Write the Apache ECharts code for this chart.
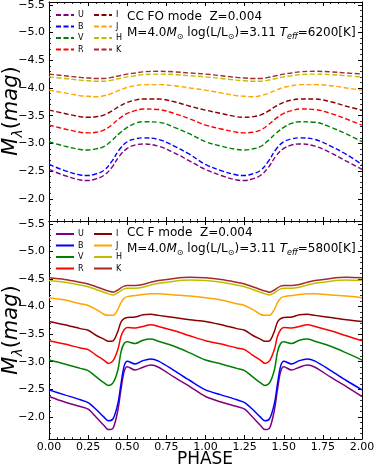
<!DOCTYPE html>
<html><head><meta charset="utf-8">
<script src="https://cdn.jsdelivr.net/npm/echarts@6/dist/echarts.min.js"></script>
<style>html,body{margin:0;padding:0;background:#fff}#c{width:374px;height:469px}</style>
</head><body><div id="c"></div>
<script>
// ---------- data ----------
const bands = ['U','B','V','R','I','J','H','K'];
const bandColors = ['#800080','#0000FF','#008000','#FF0000','#8B0000','#FFA500','#BFBF00','#A52A2A'];
const xTicks = [0,0.25,0.5,0.75,1.0,1.25,1.5,1.75,2.0];
const yTicks = [-5.5,-5.0,-4.5,-4.0,-3.5,-3.0,-2.5,-2.0];
const yMinorTicks = [-5.5,-5.4,-5.3,-5.2,-5.1,-5.0,-4.9,-4.8,-4.7,-4.6,-4.5,-4.4,-4.3,-4.2,-4.1,-4.0,-3.9,-3.8,-3.7,-3.6,-3.5,-3.4,-3.3,-3.2,-3.1,-3.0,-2.9,-2.8,-2.7,-2.6,-2.5,-2.4,-2.3,-2.2,-2.1,-2.0,-1.9,-1.8,-1.7];

// First-overtone (FO) model, one pulsation cycle
const phaseFO = [0,0.1,0.2,0.25,0.3,0.35,0.4,0.45,0.5,0.55,0.6,0.7,0.8,0.9];
const foU = [-2.53,-2.42,-2.34,-2.33,-2.36,-2.42,-2.56,-2.77,-2.91,-2.97,-2.99,-2.95,-2.83,-2.68];
const foB = [-2.62,-2.51,-2.43,-2.42,-2.45,-2.51,-2.67,-2.89,-3.03,-3.08,-3.10,-3.07,-2.95,-2.80];
const foV = [-3.03,-2.95,-2.89,-2.88,-2.90,-2.94,-3.05,-3.18,-3.29,-3.36,-3.39,-3.38,-3.29,-3.17];
const foR = [-3.33,-3.26,-3.20,-3.19,-3.20,-3.24,-3.33,-3.45,-3.54,-3.59,-3.62,-3.61,-3.54,-3.44];
const foI = [-3.60,-3.54,-3.48,-3.47,-3.48,-3.51,-3.58,-3.67,-3.74,-3.78,-3.80,-3.80,-3.75,-3.67];
const foJ = [-3.96,-3.91,-3.86,-3.85,-3.84,-3.86,-3.90,-3.96,-4.01,-4.04,-4.06,-4.06,-4.04,-4.00];
const foH = [-4.20,-4.17,-4.14,-4.13,-4.12,-4.12,-4.14,-4.17,-4.20,-4.22,-4.24,-4.25,-4.24,-4.22];
const foK = [-4.25,-4.22,-4.19,-4.18,-4.17,-4.17,-4.19,-4.22,-4.25,-4.27,-4.29,-4.30,-4.29,-4.27];

// Fundamental (F) model, one pulsation cycle
const phaseF = [0,0.1,0.2,0.25,0.3,0.35,0.38,0.41,0.44,0.46,0.48,0.5,0.55,0.6,0.65,0.7,0.8,0.9];
const fU = [-2.37,-2.27,-2.19,-2.14,-2.00,-1.85,-1.77,-1.80,-2.12,-2.50,-2.82,-2.91,-2.85,-2.90,-2.94,-2.90,-2.72,-2.55];
const fB = [-2.49,-2.40,-2.31,-2.26,-2.14,-2.00,-1.93,-1.97,-2.24,-2.60,-2.92,-3.01,-2.96,-3.02,-3.05,-3.01,-2.84,-2.66];
const fV = [-3.03,-2.96,-2.88,-2.84,-2.73,-2.62,-2.57,-2.62,-2.85,-3.18,-3.33,-3.36,-3.33,-3.39,-3.41,-3.37,-3.28,-3.16];
const fR = [-3.38,-3.32,-3.25,-3.22,-3.12,-3.03,-2.97,-3.02,-3.22,-3.46,-3.58,-3.62,-3.61,-3.64,-3.67,-3.64,-3.56,-3.47];
const fI = [-3.73,-3.67,-3.60,-3.57,-3.48,-3.41,-3.37,-3.38,-3.55,-3.72,-3.78,-3.80,-3.81,-3.85,-3.86,-3.84,-3.80,-3.76];
const fJ = [-4.16,-4.12,-4.05,-4.02,-3.95,-3.86,-3.84,-3.84,-3.95,-4.07,-4.15,-4.18,-4.20,-4.22,-4.23,-4.23,-4.21,-4.19];
const fH = [-4.47,-4.44,-4.39,-4.36,-4.31,-4.26,-4.23,-4.21,-4.25,-4.29,-4.32,-4.33,-4.33,-4.35,-4.39,-4.42,-4.46,-4.48];
const fK = [-4.52,-4.49,-4.44,-4.41,-4.36,-4.31,-4.28,-4.26,-4.30,-4.34,-4.37,-4.38,-4.38,-4.40,-4.44,-4.47,-4.51,-4.53];

const foVals = [foU,foB,foV,foR,foI,foJ,foH,foK];
const fVals = [fU,fB,fV,fR,fI,fJ,fH,fK];

// ---------- build ----------
function twoCycles(ph, v){
  const out = [];
  for (let c=0;c<2;c++) for (let i=0;i<ph.length;i++) out.push([ph[i]+c, v[i]]);
  out.push([2, v[0]]);
  return out;
}
const FONT = 'DejaVu Sans';
const YMIN = -5.55, YMAX = -1.6;
const minus = v => (v<0?'\u2212':'') + Math.abs(v).toFixed(1);

function xAx(g, pos, labels){
  return {gridIndex:g, type:'value', min:0, max:2, interval:0.25, position:pos,
    axisLine:{show:true, onZero:false, lineStyle:{color:'#000', width:1}},
    axisTick:{show:true, inside:true, length:4, lineStyle:{color:'#000', width:1}},
    minorTick:{show:true, splitNumber:5, length:2, lineStyle:{color:'#000', width:0.8}},
    axisLabel:{show:labels, margin:3, fontFamily:FONT, fontSize:11, color:'#000', formatter:v=>v.toFixed(2)},
    splitLine:{show:false}};
}
function yAx(g, pos, labels, minor){
  const vals = minor ? yMinorTicks : yTicks;
  return {gridIndex:g, type:'value', min:YMIN, max:YMAX, inverse:true, position:pos,
    axisLine:{show:!minor, onZero:false, lineStyle:{color:'#000', width:1}},
    axisTick:{show:true, inside:true, length:minor?2:4, customValues:vals, lineStyle:{color:'#000', width:minor?0.8:1}},
    axisLabel:{show:labels, margin:4, fontFamily:FONT, fontSize:11, color:'#000', customValues:yTicks, formatter:minus},
    splitLine:{show:false}};
}

const series = [];
bands.forEach((b,i)=>{
  series.push({name:b+'|t', type:'line', xAxisIndex:0, yAxisIndex:0, data:twoCycles(phaseFO, foVals[i]),
    smooth:0.4, symbol:'none', color:bandColors[i],
    lineStyle:{color:bandColors[i], width:1.4, type:[5,2.5]}, z:2+i});
});
bands.forEach((b,i)=>{
  series.push({name:b+'|b', type:'line', xAxisIndex:2, yAxisIndex:4, data:twoCycles(phaseF, fVals[i]),
    smooth:0.3, symbol:'none', color:bandColors[i],
    lineStyle:{color:bandColors[i], width:1.5, type:'solid'}, z:2+i});
});

function legend(names, left, top){
  return {data:names, orient:'vertical', left:left, top:top, itemWidth:18, itemHeight:8, itemGap:3.5,
    padding:0, selectedMode:false, itemStyle:{opacity:0, borderWidth:0},
    textStyle:{fontFamily:FONT, fontSize:8, color:'#000', padding:[0,0,0,-1]},
    formatter:n=>n.split('|')[0]};
}

const richBase = {
  n:{fontFamily:FONT, fontSize:12, color:'#000', lineHeight:16},
  i:{fontFamily:FONT, fontSize:12, fontStyle:'italic', color:'#000', lineHeight:16},
  s:{fontFamily:FONT, fontSize:8, color:'#000', verticalAlign:'bottom'},
  si:{fontFamily:FONT, fontSize:8, fontStyle:'italic', color:'#000', verticalAlign:'bottom'}
};
function annot(y, l1, teff){
  return [
    {type:'text', x:127, y:y, style:{text:'{n|'+l1+'}', rich:richBase, verticalAlign:'middle'}},
    {type:'text', x:127, y:y+16, style:{text:'{n|M=4.0}{i|M}{s|\u2299}{n| log(L/L}{s|\u2299}{n|)=3.11 }{i|T}{si|eff}{n|='+teff+'[K]}', rich:richBase, verticalAlign:'middle'}}
  ];
}
const yLabRich = {
  m:{fontFamily:FONT, fontSize:21, fontStyle:'italic', color:'#000', lineHeight:26},
  l:{fontFamily:FONT, fontSize:14, fontStyle:'italic', color:'#000', verticalAlign:'bottom'},
  p:{fontFamily:FONT, fontSize:21, color:'#000', lineHeight:26}
};
function yLabel(cy){
  return {type:'text', x:12, y:cy, rotation:Math.PI/2,
    style:{text:'{m|M}{l|\u03bb}{p|(}{m|mag}{p|)}', rich:yLabRich, align:'center', verticalAlign:'middle'}};
}

const option = {
  animation:false,
  backgroundColor:'#fff',
  grid:[{left:49, right:12, top:2, height:219, outerBoundsMode:'none', containLabel:false},
        {left:49, right:12, top:221, height:218, outerBoundsMode:'none', containLabel:false}],
  xAxis:[xAx(0,'bottom',false), xAx(0,'top',false), xAx(1,'bottom',true), xAx(1,'top',false)],
  yAxis:[yAx(0,'left',true,false), yAx(0,'right',false,false), yAx(0,'left',false,true), yAx(0,'right',false,true),
         yAx(1,'left',true,false), yAx(1,'right',false,false), yAx(1,'left',false,true), yAx(1,'right',false,true)],
  legend:[
    legend(['U|t','B|t','V|t','R|t'], 55, 11), legend(['I|t','J|t','H|t','K|t'], 93, 11),
    legend(['U|b','B|b','V|b','R|b'], 55, 230), legend(['I|b','J|b','H|b','K|b'], 93, 230)
  ],
  graphic:[].concat(annot(17,'CC FO mode  Z=0.004','6200'), annot(233,'CC F mode  Z=0.004','5800'),
    [yLabel(111), yLabel(330),
     {type:'text', x:205, y:460, style:{text:'PHASE', fontFamily:FONT, fontSize:17, fill:'#000', align:'center', verticalAlign:'middle'}}]),
  series:series
};
const chart = echarts.init(document.getElementById('c'), null, {renderer:'canvas'});
chart.setOption(option);
</script></body></html>
